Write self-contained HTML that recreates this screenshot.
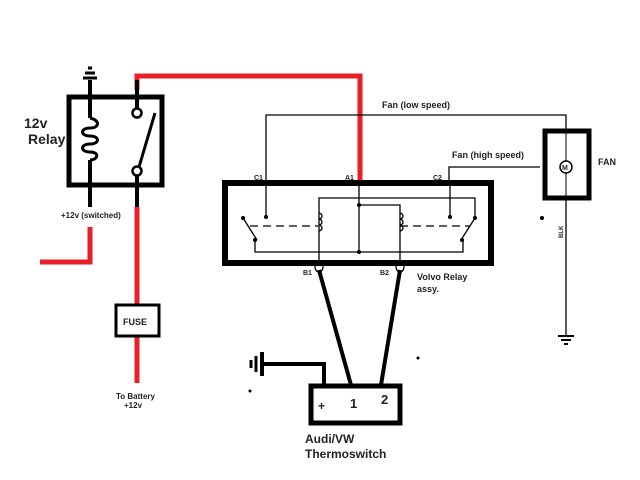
<!DOCTYPE html>
<html><head><style>body{margin:0;background:#fff}svg{display:block}text{font-family:"Liberation Sans",sans-serif;font-weight:bold;fill:#222}</style></head>
<body>
<svg width="640" height="480" viewBox="0 0 640 480" xmlns="http://www.w3.org/2000/svg">
<rect width="640" height="480" fill="#fff"/>
<!-- red wires -->
<g stroke="#e8202a" stroke-width="5" fill="none">
<polyline points="137,90 137,76 360,76 360,185"/>
<polyline points="137,207 137,305"/>
<polyline points="137,337 137,383"/>
<polyline points="90,227 90,262 40,262"/>
</g>
<!-- 12v relay -->
<g stroke="#000" fill="none">
<rect x="69" y="97" width="93" height="88" stroke-width="5"/>
<line x1="90" y1="80" x2="90" y2="118" stroke-width="4"/>
<line x1="90" y1="160" x2="90" y2="207" stroke-width="4"/>
<path d="M90,118 C100,120 100,128 90,128 C80,128 80,136 90,136 C100,136 100,144 90,144 C80,144 80,152 90,152 C100,152 98,160 90,160" stroke-width="3"/>
<line x1="83" y1="78" x2="97" y2="78" stroke-width="3"/>
<line x1="85" y1="73" x2="95" y2="73" stroke-width="3"/>
<line x1="88" y1="68" x2="92" y2="68" stroke-width="3"/>
<line x1="137" y1="80" x2="137" y2="109" stroke-width="4"/>
<circle cx="137" cy="113" r="4.5" stroke-width="2.5" fill="#fff"/>
<circle cx="137" cy="171" r="4.5" stroke-width="2.5" fill="#fff"/>
<line x1="139" y1="167" x2="155" y2="113" stroke-width="3"/>
<line x1="137" y1="176" x2="137" y2="207" stroke-width="4"/>
</g>
<text x="24" y="128" font-size="14">12v</text>
<text x="28" y="144" font-size="14">Relay</text>
<text x="61" y="218" font-size="8">+12v (switched)</text>
<!-- fuse -->
<rect x="116" y="305" width="43" height="31" fill="#fff" stroke="#000" stroke-width="3"/>
<text x="123" y="325" font-size="9">FUSE</text>
<text x="116" y="399" font-size="8">To Battery</text>
<text x="124" y="408" font-size="8">+12v</text>
<!-- volvo relay thin wires -->
<g stroke="#000" stroke-width="1.3" fill="none">
<polyline points="266,183 266,115 566,115 566,132"/>
<polyline points="449,183 449,167 540,167"/>
<line x1="266" y1="185" x2="266" y2="217"/>
<polyline points="319,262 319,198 475,198 475,218"/>
<line x1="359" y1="185" x2="359" y2="253"/>
<polyline points="359,205 400,205 400,262"/>
<polyline points="255,240 255,252 463,252 463,240"/>
<line x1="243" y1="218" x2="257" y2="240"/>
<line x1="475" y1="218" x2="461" y2="240"/>
<line x1="450" y1="185" x2="450" y2="217"/>
<line x1="250" y1="226" x2="318" y2="226" stroke-dasharray="8,5"/>
<line x1="400" y1="226" x2="470" y2="226" stroke-dasharray="8,5"/>
<path d="M319,213 c4,1 4,5 0,6 c4,1 4,5 0,6 c4,1 4,5 0,6" />
<path d="M400,213 c4,1 4,5 0,6 c4,1 4,5 0,6 c4,1 4,5 0,6" />
<ellipse cx="319" cy="267" rx="4" ry="5" fill="#fff"/>
<ellipse cx="400" cy="267" rx="4" ry="5" fill="#fff"/>
<line x1="566" y1="198" x2="566" y2="335"/>
</g>
<g fill="#000">
<circle cx="266" cy="217" r="2"/><circle cx="243" cy="218" r="2"/><circle cx="255" cy="240" r="2"/>
<circle cx="359" cy="205" r="2"/><circle cx="359" cy="252" r="2"/>
<circle cx="450" cy="217" r="2"/><circle cx="475" cy="218" r="2"/><circle cx="462" cy="240" r="2"/>
<circle cx="542" cy="218" r="2"/><circle cx="250" cy="391" r="1.5"/><circle cx="418" cy="358" r="1.5"/>
</g>
<rect x="225" y="183" width="266" height="80" fill="none" stroke="#000" stroke-width="6"/>
<g font-size="7"><text x="254" y="180">C1</text><text x="345" y="180">A1</text><text x="433" y="180">C2</text><text x="303" y="275">B1</text><text x="380" y="275">B2</text></g>
<text x="417" y="280" font-size="9">Volvo Relay</text>
<text x="417" y="292" font-size="9">assy.</text>
<text x="382" y="108" font-size="9">Fan (low speed)</text>
<text x="452" y="158" font-size="9">Fan (high speed)</text>
<!-- thermoswitch wires -->
<g stroke="#000" stroke-width="4" fill="none">
<line x1="319" y1="270" x2="351" y2="385"/>
<line x1="400" y1="270" x2="381" y2="385"/>
<polyline points="263,364 324,364 324,387"/>
<line x1="262" y1="352" x2="262" y2="376"/>
<line x1="256" y1="356" x2="256" y2="372" stroke-width="3"/>
<line x1="251" y1="360" x2="251" y2="368" stroke-width="3"/>
</g>
<rect x="311" y="386" width="89" height="37" fill="none" stroke="#000" stroke-width="5"/>
<text x="318" y="410" font-size="12">+</text>
<text x="350" y="408" font-size="13" font-weight="normal">1</text>
<text x="381" y="404" font-size="13" font-weight="normal">2</text>
<text x="305" y="443" font-size="12">Audi/VW</text>
<text x="305" y="458" font-size="12">Thermoswitch</text>
<!-- fan -->
<rect x="545" y="131" width="44" height="67" fill="none" stroke="#000" stroke-width="5"/>
<line x1="566" y1="133" x2="566" y2="196" stroke="#000" stroke-width="1"/>
<circle cx="566" cy="167" r="6" fill="#fff" stroke="#000" stroke-width="1.5"/>
<text x="562" y="170" font-size="7" font-weight="normal">M</text>
<text x="598" y="165" font-size="9">FAN</text>
<text x="563" y="238" font-size="6" transform="rotate(-90 563 238)">BLK</text>
<g stroke="#000" stroke-width="2"><line x1="558" y1="336" x2="574" y2="336"/><line x1="561" y1="340" x2="571" y2="340"/><line x1="564" y1="344" x2="568" y2="344"/></g>
</svg>
</body></html>
